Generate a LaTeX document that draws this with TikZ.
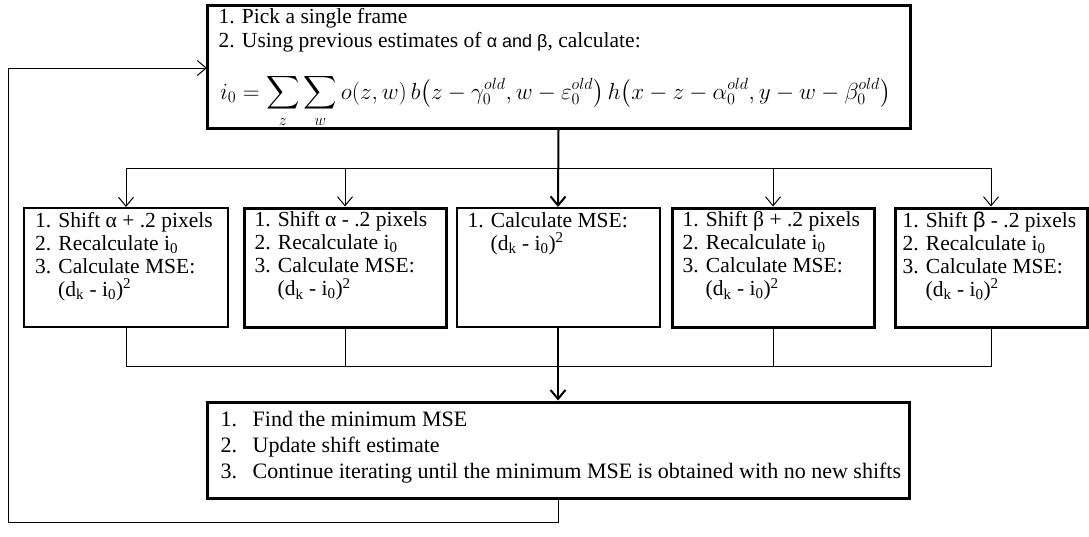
\documentclass[tikz,border=0pt]{standalone}
\usepackage{fontspec}
\setmainfont{Liberation Serif}
\newfontfamily\sansfont{Liberation Sans}
\usepackage{amsmath}
\usepackage{graphicx}
\usetikzlibrary{positioning, arrows.meta, calc}

\begin{document}
\begin{tikzpicture}[
  x=1pt, y=-1pt,
  font=\fontsize{21.5}{23}\selectfont,
  >={Straight Barb[length=9pt,width=15pt]},
  box/.style={draw, line width=2pt, inner sep=0pt, minimum height=119pt},
  boldbox/.style={box, line width=3pt},
  boxtext/.style={anchor=north west, inner sep=0pt, align=left},
  link/.style={line width=1pt},
  trunk/.style={line width=2pt}
]
\useasboundingbox (0,0) rectangle (1089,536);
% boxes
\node[boldbox, minimum width=703pt, minimum height=123pt] (top) at (558.5,66.5) {};
\node[box, minimum width=204pt] (sap) at (126,267.5) {};
\node[boldbox, minimum width=202pt] (sam) at (345,267.5) {};
\node[box, minimum width=203pt] (mse) at (558,267.5) {};
\node[boldbox, minimum width=202pt] (sbp) at (773,267.5) {};
\node[boldbox, minimum width=192pt] (sbm) at (991,267.5) {};
\node[boldbox, minimum width=702pt, minimum height=96pt] (upd) at (558,450) {};
% texts
\node[boxtext, font=\fontsize{21.5}{23.5}\selectfont] (pick) at ($(top.north west)+(13,5)$)
  {1. Pick a single frame\\2. Using previous estimates of {\sansfont\fontsize{18}{20}\selectfont α and β}, calculate:};
\node[anchor=base west, inner sep=0pt] (eq) at (220,99)
  {\scalebox{1.12}{$\displaystyle i_0 = \sum_z\sum_w o(z,w)\,b\bigl(z-\gamma_0^{old},w-\varepsilon_0^{old}\bigr)\,h\bigl(x-z-\alpha_0^{old},y-w-\beta_0^{old}\bigr)$}};
\node[boxtext] at ($(sap.north west)+(12,5)$)
  {1. Shift α + .2 pixels\\2. Recalculate i\textsubscript{0}\\3. Calculate MSE:\\\hspace*{23pt}(d\textsubscript{k} - i\textsubscript{0})\textsuperscript{2}};
\node[boxtext] at ($(sam.north west)+(12,5)$)
  {1. Shift α - .2 pixels\\2. Recalculate i\textsubscript{0}\\3. Calculate MSE:\\\hspace*{23pt}(d\textsubscript{k} - i\textsubscript{0})\textsuperscript{2}};
\node[boxtext] at ($(mse.north west)+(12,5)$)
  {1. Calculate MSE:\\\hspace*{23pt}(d\textsubscript{k} - i\textsubscript{0})\textsuperscript{2}};
\node[boxtext] at ($(sbp.north west)+(12,5)$)
  {1. Shift β + .2 pixels\\2. Recalculate i\textsubscript{0}\\3. Calculate MSE:\\\hspace*{23pt}(d\textsubscript{k} - i\textsubscript{0})\textsuperscript{2}};
\node[boxtext] at ($(sbm.north west)+(9,5)$)
  {1. Shift {\sansfont β} - .2 pixels\\2. Recalculate i\textsubscript{0}\\3. Calculate MSE:\\\hspace*{23pt}(d\textsubscript{k} - i\textsubscript{0})\textsuperscript{2}};
\node[boxtext, font=\fontsize{22}{26}\selectfont] at ($(upd.north west)+(15,11)$)
  {\makebox[32pt][l]{1.}Find the minimum MSE\\
   \makebox[32pt][l]{2.}Update shift estimate\\
   \makebox[32pt][l]{3.}Continue iterating until the minimum MSE is obtained with no new shifts};
% connectors
\coordinate (split) at (558,168);
\coordinate (join) at (558,366);
\coordinate (corner) at (8,522);
\coordinate (reentry) at (207,68);
\draw[link] (split -| sap.north) -- (split -| sbm.north);
\draw[trunk, ->] (top.south) -- (mse.north);
\foreach \b in {sap, sam, sbp, sbm}
  \draw[link, ->] (split -| \b.north) -- (\b.north);
\foreach \b in {sap, sam, sbp, sbm}
  \draw[link] (\b.south) |- (join);
\draw[trunk, ->] (mse.south) -- (upd.north);
\draw[link, ->] (upd.south) |- (corner) |- (reentry);
\end{tikzpicture}
\end{document}
